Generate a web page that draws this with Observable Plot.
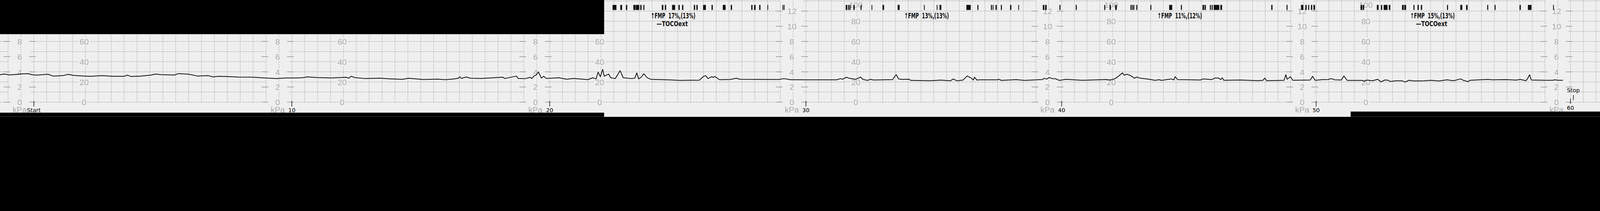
<!DOCTYPE html>
<html>
<head>
<meta charset="utf-8">
<script src="https://cdn.jsdelivr.net/npm/d3@7"></script>
<script src="https://cdn.jsdelivr.net/npm/@observablehq/plot@0.6"></script>
<style>
  html, body { margin: 0; padding: 0; background: #000; overflow: hidden; }
  #chart svg { display: block; }
</style>
</head>
<body>
<div id="chart"></div>
<script>
// minute marks written under the strip
const timeMarks = [0, 10, 20, 30, 40, 50];
const timeLabels = ['Start', '10', '20', '30', '40', '50'];
const endMark = 60;
const endLabel = '60';
const stopLabel = 'Stop';

// the paper reprints its pressure scales every 10 minutes
const scaleRepeats = [0, 10, 20, 30, 40, 50, 60];
const mmHgTicks = [0, 20, 40, 60, 80, 100];
const kPaTicks = [0, 2, 4, 6, 8, 10, 12];

// strip extent (minutes) and the scanned pieces that are missing
const stripStart = -1.31;
const stripEnd = 61.16;
const cutouts = [
  {x1: stripStart, x2: 22.13, y1: 67.1, y2: 100.85},
  {x1: stripStart, x2: 22.13, y1: -14.5, y2: -10.5},
  {x1: 51.36, x2: stripEnd, y1: -14.5, y2: -9.4}
];

// TOCOext trace, minutes / mmHg
const tocoMin = [-1.31,-1.16,-0.93,-0.59,-0.43,-0.22,-0.07,0.12,0.55,0.75,1.12,1.33,1.54,1.88,2.21,2.63,3.05,3.51,3.63,3.76,4.14,4.56,4.71,4.93,5.45,5.60,5.98,6.35,6.76,6.95,7.17,7.55,7.92,8.48,8.93,9.41,9.79,10.17,10.42,10.60,10.98,11.54,12.10,12.21,12.30,12.44,12.85,13.41,13.79,14.28,14.53,15.10,15.66,15.96,16.29,16.46,16.51,16.58,16.76,16.88,16.95,17.37,17.81,18.17,18.27,18.71,18.78,19.04,19.24,19.31,19.40,19.48,19.56,19.61,19.68,19.77,19.87,20.36,20.66,20.93,21.49,21.68,21.81,21.89,21.98,22.07,22.13,22.30,22.38,22.56,22.75,22.87,23.20,23.32,23.40,23.47,23.58,23.67,23.81,23.95,24.71,25.08,25.84,26.01,26.09,26.18,26.33,26.38,26.44,26.63,27.06,27.28,27.44,28.94,29.15,29.39,30.07,31.20,31.35,31.43,31.58,31.69,31.95,32.14,32.22,32.41,32.52,32.64,32.81,33.39,33.53,33.62,33.77,34.02,34.11,34.90,35.27,35.65,35.76,35.91,36.14,36.31,36.48,36.55,36.59,36.69,36.78,37.50,37.53,37.65,38.22,38.55,39.26,39.32,39.42,39.51,39.68,39.75,39.91,40.17,40.81,41.76,41.91,42.11,42.23,42.39,42.46,42.57,42.71,42.86,42.95,43.09,43.46,43.66,43.85,43.92,44.30,44.41,44.46,44.56,45.45,45.56,45.90,46.02,46.17,46.25,46.31,46.37,47.04,47.72,47.91,47.98,48.06,48.74,48.81,48.86,48.99,49.08,49.77,49.86,49.96,50.25,50.47,50.59,50.73,50.99,51.09,51.22,51.79,51.90,51.98,52.21,52.42,52.55,52.70,52.84,52.91,53.12,53.38,53.50,53.65,53.87,54.25,54.52,54.83,55.15,55.39,55.69,55.78,55.97,56.05,56.43,56.74,56.92,57.49,57.87,58.02,58.25,58.33,58.39,58.46,59.01,59.31,59.37,59.54,59.69];
const tocoVal = [27.1,27.8,26.9,27.6,28.0,28.2,27.1,26.7,27.6,25.8,26.2,27.5,26.4,25.9,25.6,26.2,25.6,25.6,26.7,25.4,25.8,26.8,27.8,27.2,26.8,28.2,27.7,25.8,26.2,25.0,25.6,25.3,24.8,24.7,23.9,23.3,23.9,23.9,24.2,25.0,24.3,23.9,24.6,23.7,25.6,24.3,23.3,23.7,23.1,22.6,23.6,22.4,22.8,22.2,23.0,23.6,25.1,23.4,24.9,23.9,23.6,23.4,24.1,24.7,23.4,25.8,23.4,23.2,24.5,23.4,26.0,26.7,30.0,27.4,23.8,25.6,23.4,24.1,22.7,23.4,22.3,24.1,23.0,29.6,25.2,32.4,25.6,27.8,24.1,23.3,31.1,24.1,23.3,23.7,28.9,23.0,24.8,28.1,24.1,22.6,22.0,21.5,21.7,25.6,26.1,23.3,25.2,24.4,25.4,22.2,22.5,23.6,22.6,22.4,23.3,22.2,22.1,22.1,23.3,22.6,24.6,23.6,22.6,24.8,22.6,21.5,22.6,21.9,22.0,22.3,27.2,23.0,22.5,22.7,21.5,21.2,21.8,21.1,22.9,21.1,21.8,25.9,23.5,21.8,24.7,21.8,22.1,22.1,22.7,21.5,22.3,21.5,22.4,23.6,22.8,24.3,23.0,23.3,21.5,22.6,21.6,22.4,21.9,23.3,25.6,28.9,26.7,27.6,26.3,23.7,24.8,23.7,22.6,21.6,22.2,21.5,23.0,22.0,25.2,22.3,21.9,23.0,22.3,23.8,23.8,22.3,24.1,21.6,21.9,21.2,21.6,23.8,21.2,21.6,27.1,22.7,25.2,21.6,21.9,25.6,21.6,22.3,22.4,23.3,22.1,21.9,25.9,21.5,21.5,20.6,21.9,21.1,22.6,20.1,21.9,21.6,20.4,21.1,21.1,19.9,21.6,20.9,21.1,21.6,20.9,22.1,21.1,23.0,21.6,20.3,21.6,22.1,22.5,22.1,22.3,21.8,22.5,21.2,24.0,27.1,21.9,21.6,21.6,22.1,21.6,21.6];

// fetal movement marks (start / end minute)
const fmpStart = [22.46,22.76,22.98,23.27,23.37,23.54,23.66,24.38,24.50,24.78,25.03,25.17,25.63,25.73,25.99,26.32,26.76,27.07,27.87,27.98,28.18,28.50,29.09,29.14,31.56,31.65,31.71,31.86,32.14,32.57,33.00,33.59,34.62,35.12,35.23,36.28,36.71,37.24,37.31,37.42,37.63,37.99,38.31,39.27,39.36,39.92,40.56,41.68,41.89,42.11,42.71,42.77,42.82,42.94,43.49,44.23,44.69,45.54,45.62,45.83,45.90,45.98,46.24,48.24,48.84,49.41,49.58,49.69,49.80,49.90,51.75,51.84,52.39,52.55,52.66,52.86,53.38,53.47,53.83,53.99,54.12,55.15,55.67,55.90,56.73,57.02,58.00,58.33,59.32];
const fmpEnd = [22.61,22.83,23.03,23.36,23.50,23.59,23.70,24.44,24.55,24.90,25.08,25.22,25.68,25.78,26.10,26.37,26.87,27.12,27.92,28.04,28.23,28.53,29.12,29.17,31.62,31.69,31.75,31.91,32.18,32.60,33.06,33.67,34.65,35.15,35.30,36.45,36.75,37.28,37.34,37.47,37.67,38.04,38.34,39.33,39.42,39.96,40.60,41.72,41.94,42.17,42.75,42.80,42.86,42.98,43.53,44.35,44.73,45.60,45.67,45.87,45.94,46.20,46.31,48.29,48.88,49.50,49.63,49.73,49.85,49.96,51.82,51.89,52.46,52.60,52.81,52.92,53.45,53.54,53.87,54.04,54.17,55.19,55.75,55.96,56.77,57.06,58.05,58.47,59.35];

// FMP percentages printed every 10 minutes
const fmpNoteMin = [23.95, 33.85, 43.77, 53.7];
const fmpNotes = ['17%,(13%)', '13%,(13%)', '11%,(12%)', '15%,(13%)'];
const tocoLegendMin = [23.95, 53.7];

const paper = '#efefef';
const gridGrey = '#a0a0a0';
const labelGrey = '#ababab';

const trace = tocoMin.map((m, i) => ({m, v: tocoVal[i]}));
const fmp = fmpStart.map((s, i) => ({s, e: fmpEnd[i]}));
const notes = fmpNoteMin.map((m, i) => ({m, t: fmpNotes[i]}));

// only what lies on paper can be seen
const onPaper = (x, y) => !cutouts.some(c => x >= c.x1 && x <= c.x2 && y >= c.y1 && y <= c.y2);

// paper grid: a line every half minute, every 10 mmHg
const gridX = d3.range(-1, stripEnd, 0.5);
const gridY = d3.range(0, 101, 10);
const gaps = scaleRepeats.map(m => [m - 1, m - 0.1]);
const hRules = [];
gridY.forEach(v => {
  let from = stripStart;
  gaps.forEach(([a, b]) => { hRules.push({v, x1: from, x2: a}); from = b; });
  hRules.push({v, x1: from, x2: stripEnd});
});
const kPaDashes = scaleRepeats.flatMap(m => kPaTicks.flatMap(k =>
  [m - 1.04, m - 0.05].map(c => ({v: k * 7.5, x1: c - 0.13, x2: c + 0.13}))));
const mmHgText = scaleRepeats.slice(0, -1)
  .flatMap(m => mmHgTicks.map(v => ({x: m + 1.95, v})))
  .filter(d => onPaper(d.x, d.v));
const topTick = d3.max(mmHgTicks);
const kPaText = scaleRepeats
  .flatMap(m => kPaTicks.map(k => ({x: m - 0.55, k})))
  .filter(d => onPaper(d.x, d.k * 7.5));

const greyFont = "'Liberation Sans', Arial, sans-serif";
const printFont = "'Liberation Sans Narrow', 'DejaVu Sans Condensed', sans-serif";
const noteFont = "'DejaVu Sans', sans-serif";
const greyText = {fill: labelGrey, stroke: paper, strokeWidth: 12, fontSize: 38, fontFamily: greyFont};

const chart = Plot.plot({
  width: 7404,
  height: 540,
  marginTop: 0,
  marginRight: 0,
  marginBottom: 0,
  marginLeft: 0,
  x: {
    type: 'linear',
    domain: [stripStart, ...scaleRepeats, stripEnd],
    range: [0, 156, 1350, 2543, 3729, 4912, 6090, 7267, 7404],
    axis: null
  },
  y: {domain: [-14.5, 100.85], range: [540, 0], axis: null},
  style: {background: paper},
  marks: [
    Plot.ruleX(gridX, {y1: 0, y2: 100.85, stroke: gridGrey, strokeWidth: 1.5, strokeDasharray: '9 3'}),
    Plot.ruleY(hRules, {y: 'v', x1: 'x1', x2: 'x2', stroke: gridGrey, strokeWidth: 1.7, strokeDasharray: '10 3'}),
    Plot.ruleY(kPaDashes, {y: 'v', x1: 'x1', x2: 'x2', stroke: '#9a9a9a', strokeWidth: 3}),
    Plot.text(mmHgText.filter(d => d.v < topTick), {x: 'x', y: 'v', text: d => String(d.v), dy: 2, ...greyText}),
    // the top label sits at the paper's edge: hang it just inside
    Plot.text(mmHgText.filter(d => d.v === topTick), {
      x: 'x', y: 100.85, text: d => String(d.v), lineAnchor: 'top', dy: 8, ...greyText
    }),
    Plot.text(kPaText, {x: 'x', y: d => d.k * 7.5, text: d => String(d.k), dy: 2, ...greyText}),
    Plot.text(scaleRepeats, {
      x: d => d - 0.55, y: -7.6, text: () => 'kPa',
      fill: labelGrey, fontSize: 38, fontFamily: greyFont
    }),
    Plot.line(trace, {x: 'm', y: 'v', stroke: '#111', strokeWidth: 3.6, strokeLinejoin: 'round'}),
    Plot.rect(fmp, {x1: 's', x2: 'e', y1: 91, y2: 96, fill: '#111'}),
    Plot.text(notes, {
      x: 'm', y: 85, text: d => '\u2191FMP\u00a0\u00a0' + d.t,
      textAnchor: 'start', fill: '#111', fontSize: 34, fontWeight: 'bold', fontFamily: printFont,
      className: 'fmp-note'
    }),
    Plot.text(tocoLegendMin, {
      x: d => d, y: 77.4, dx: 26, text: () => '\u2014TOCOext',
      textAnchor: 'start', fill: '#111', fontSize: 32, fontWeight: 'bold', fontFamily: printFont,
      className: 'toco-legend'
    }),
    Plot.rect(cutouts, {x1: 'x1', x2: 'x2', y1: 'y1', y2: 'y2', fill: '#000'}),
    Plot.ruleX(timeMarks, {y1: 1, y2: -4.5, stroke: '#000', strokeWidth: 2.5}),
    Plot.text(timeMarks, {
      x: d => d, y: -8, text: (d, i) => timeLabels[i],
      fill: '#000', fontSize: 26, fontFamily: noteFont
    }),
    Plot.ruleX([endMark], {y1: 3.4, y2: -1.7, stroke: '#000', strokeWidth: 2.5}),
    Plot.text([endMark], {x: d => d, y: -5.6, text: () => endLabel, fill: '#000', fontSize: 26, fontFamily: noteFont}),
    Plot.ruleX([endMark], {y1: 7, y2: 1.9, dx: 13, stroke: '#000', strokeWidth: 2.5}),
    Plot.text([endMark], {x: d => d, y: 11.5, dx: 13, text: () => stopLabel, fill: '#000', fontSize: 26, fontFamily: noteFont})
  ]
});

// the recorder prints in a narrow face: squeeze the notes to its width
d3.select(chart).selectAll('.fmp-note text').attr('textLength', 206).attr('lengthAdjust', 'spacingAndGlyphs');
d3.select(chart).selectAll('.toco-legend text').attr('textLength', 145).attr('lengthAdjust', 'spacingAndGlyphs');

document.getElementById('chart').append(chart);
</script>
</body>
</html>
